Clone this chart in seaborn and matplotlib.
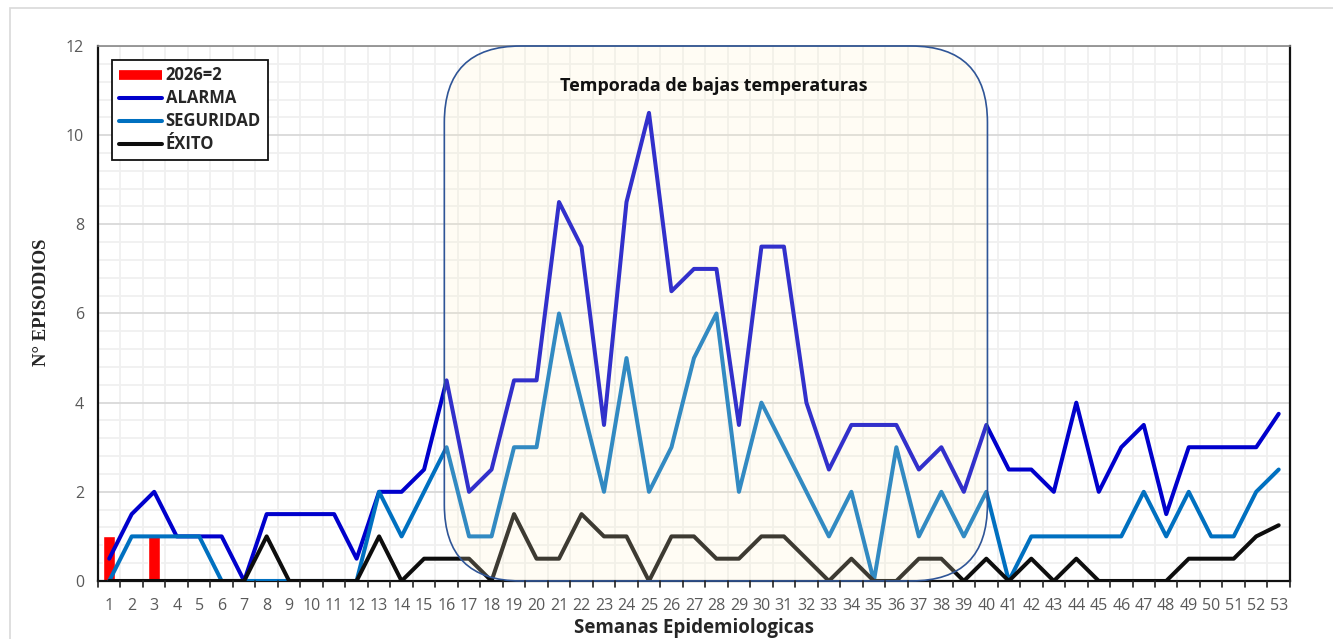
import matplotlib
matplotlib.use('Agg')
import matplotlib.pyplot as plt
from matplotlib.patches import FancyBboxPatch, Rectangle
from matplotlib.lines import Line2D
from matplotlib.ticker import MultipleLocator
import seaborn as sns
import numpy as np
import pandas as pd

sns.set_style('white')
plt.rcParams['font.family'] = ['Open Sans', 'DejaVu Sans']

weeks = list(range(1, 54))

alarma = [0.5, 1.5, 2, 1, 1, 1, 0, 1.5, 1.5, 1.5, 1.5, 0.5, 2, 2, 2.5, 4.5, 2, 2.5,
          4.5, 4.5, 8.5, 7.5, 3.5, 8.5, 10.5, 6.5, 7, 7, 3.5, 7.5, 7.5, 4, 2.5, 3.5,
          3.5, 3.5, 2.5, 3, 2, 3.5, 2.5, 2.5, 2, 4, 2, 3, 3.5, 1.5, 3, 3, 3, 3, 3.75]
seguridad = [0, 1, 1, 1, 1, 0, 0, 0, 0, 0, 0, 0, 2, 1, 2, 3, 1, 1,
             3, 3, 6, 4, 2, 5, 2, 3, 5, 6, 2, 4, 3, 2, 1, 2,
             0, 3, 1, 2, 1, 2, 0, 1, 1, 1, 1, 1, 2, 1, 2, 1, 1, 2, 2.5]
exito = [0, 0, 0, 0, 0, 0, 0, 1, 0, 0, 0, 0, 1, 0, 0.5, 0.5, 0.5, 0,
         1.5, 0.5, 0.5, 1.5, 1, 1, 0, 1, 1, 0.5, 0.5, 1, 1, 0.5, 0, 0.5,
         0, 0, 0.5, 0.5, 0, 0.5, 0, 0.5, 0, 0.5, 0, 0, 0, 0, 0.5, 0.5, 0.5, 1, 1.25]
casos_2026 = [1, 0, 1] + [0] * 50

season_start, season_end = 15.9, 40.05
season_label = 'Temporada de bajas temperaturas'

df = pd.DataFrame({'semana': weeks, 'ALARMA': alarma,
                   'SEGURIDAD': seguridad, 'ÉXITO': exito, '2026': casos_2026})

fig = plt.figure(figsize=(13.33, 6.39), dpi=100)
ax = fig.add_axes([0.0735, 0.0908, 0.8942, 0.8372])

# marco gris de la figura
fig.patches.append(Rectangle((10 / 1333, -0.01), 1.2, 1 - 8 / 639 + 0.01,
                             transform=fig.transFigure, fill=False,
                             edgecolor='#d9d9d9', lw=1.2))

ax.bar(df['semana'], df['2026'], width=0.55, color='#ff0000', zorder=2)
sns.lineplot(data=df, x='semana', y='ALARMA', ax=ax, color='#0000cc', lw=2.9, zorder=3)
sns.lineplot(data=df, x='semana', y='SEGURIDAD', ax=ax, color='#0070c0', lw=2.9, zorder=4)
sns.lineplot(data=df, x='semana', y='ÉXITO', ax=ax, color='#0d0d0d', lw=2.9, zorder=5)

ax.set_xlim(0.5, 53.5)
ax.set_ylim(0, 12)

# cuadro de la temporada (radio en pixeles -> mutation_aspect)
aspect = (12 / 535) / (53 / 1192)
face = FancyBboxPatch((season_start, 0), season_end - season_start, 12,
                      boxstyle='round,pad=0,rounding_size=3.4', mutation_aspect=aspect,
                      facecolor='#fff3cb', alpha=0.2, edgecolor='none', zorder=6,
                      clip_on=False)
edge = FancyBboxPatch((season_start, 0), season_end - season_start, 12,
                      boxstyle='round,pad=0,rounding_size=3.4', mutation_aspect=aspect,
                      facecolor='none', edgecolor='#2f5597', lw=1.2, zorder=7,
                      clip_on=False)
ax.add_patch(face)
ax.add_patch(edge)
ax.text(27.9, 11.1, season_label, ha='center', va='center', fontsize=13,
        fontweight='bold', color='#111111', zorder=8)

# rejilla
ax.xaxis.set_minor_locator(MultipleLocator(0.5))
ax.yaxis.set_major_locator(MultipleLocator(2))
ax.yaxis.set_minor_locator(MultipleLocator(0.4))
ax.grid(which='major', axis='y', color='#d9d9d9', lw=1.3, zorder=0)
ax.grid(which='minor', axis='both', color='#f0f0f0', lw=1.3, zorder=0)
ax.set_axisbelow(True)

ax.set_xticks(weeks)
ax.set_xticklabels([str(w) for w in weeks])
ax.tick_params(axis='x', which='major', length=0, labelsize=11.5, labelcolor='#595959', pad=12)
ax.tick_params(axis='x', which='minor', length=0)
ax.tick_params(axis='y', which='both', length=0, labelsize=11.5, labelcolor='#595959', pad=10)
# marcas entre semanas
for b in np.arange(0.5, 54, 1):
    ax.plot([b, b], [0, -0.13], color='#222222', lw=1.2, clip_on=False, zorder=9)

for s in ['left', 'bottom', 'right']:
    ax.spines[s].set_color('#111111')
    ax.spines[s].set_linewidth(1.6)
ax.spines['top'].set_color('#888888')
ax.spines['top'].set_linewidth(1.2)

ax.set_xlabel('Semanas Epidemiologicas', fontsize=13.5, fontweight='bold', labelpad=3)
ax.set_ylabel('N° EPISODIOS', fontsize=13.5, fontweight='bold',
              family=['Liberation Serif', 'DejaVu Serif'])
ax.yaxis.set_label_coords(-0.04, 0.52)

handles = [Line2D([], [], color='#ff0000', lw=7, solid_capstyle='butt'),
           Line2D([], [], color='#0000cc', lw=2.9),
           Line2D([], [], color='#0070c0', lw=2.9),
           Line2D([], [], color='#0d0d0d', lw=2.9)]
labels = ['2026=2', 'ALARMA', 'SEGURIDAD', 'ÉXITO']
leg = ax.legend(handles, labels, loc='upper left', bbox_to_anchor=(0.005, 0.99),
                frameon=True, fancybox=False, edgecolor='#111111', framealpha=1,
                handlelength=2.6, handletextpad=0.2, labelspacing=0.3,
                borderpad=0.4, prop={'weight': 'bold', 'size': 12})
leg.get_frame().set_linewidth(1.3)
leg.set_zorder(10)

fig.savefig('out.png', dpi=100)
